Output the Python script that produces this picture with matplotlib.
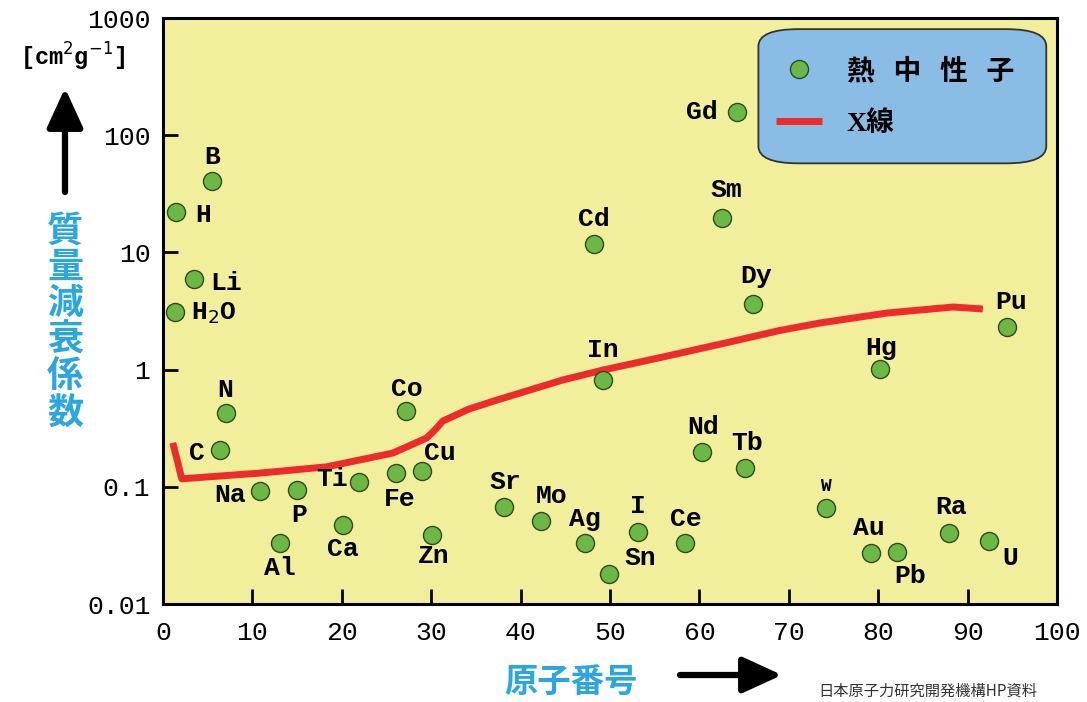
import matplotlib
matplotlib.use("Agg")
import matplotlib.pyplot as plt
from matplotlib import ticker
from matplotlib.lines import Line2D
from matplotlib.patches import FancyBboxPatch

plt.rcParams["font.family"] = ["DejaVu Sans", "Noto Sans CJK JP"]

# Thermal-neutron mass attenuation coefficients by element
elements = ["H", "B", "Li", "H2O", "N", "C", "Na", "Al", "P", "Ca", "Ti", "Fe",
            "Co", "Cu", "Zn", "Sr", "Mo", "Ag", "Cd", "In", "Sn", "I", "Ce",
            "Nd", "Sm", "Gd", "Tb", "Dy", "W", "Au", "Hg", "Pb", "Ra", "U", "Pu"]
atomic_numbers = [1.5, 5.5, 3.5, 1.3, 7.0, 6.4, 10.9, 13.1, 15.0, 20.1, 21.9, 26.1,
                  27.2, 29.0, 30.1, 38.1, 42.3, 47.2, 48.2, 49.2, 49.9, 53.1, 58.4,
                  60.3, 62.5, 64.2, 65.1, 66.0, 74.2, 79.2, 80.2, 82.1, 87.9, 92.4, 94.4]
neutron_coeff = [22.1, 40.6, 5.9, 3.1, 0.43, 0.206, 0.092, 0.033, 0.094, 0.047, 0.11, 0.131,
                 0.44, 0.136, 0.039, 0.067, 0.051, 0.033, 11.8, 0.81, 0.018, 0.041, 0.033,
                 0.20, 19.7, 158, 0.145, 3.6, 0.066, 0.027, 1.01, 0.028, 0.040, 0.0345, 2.31]

# X-ray attenuation trend
xray_z = [1.1, 2.1, 10.9, 18.3, 25.7, 29.5, 30.5, 31.3, 34.2, 37.4, 44.7, 49.2, 55.9,
          63.4, 68.9, 73.5, 81.0, 88.4, 91.7]
xray_coeff = [0.237, 0.117, 0.131, 0.148, 0.194, 0.261, 0.31, 0.364, 0.46, 0.551, 0.815,
              0.99, 1.28, 1.72, 2.15, 2.50, 3.04, 3.42, 3.29]

y_ticks = [0.01, 0.1, 1, 10, 100, 1000]
x_ticks = list(range(0, 101, 10))

# label placement around each dot, in pixels (dx, dy)
label_offsets = {
    "H": (27, -3), "B": (0, 24), "Li": (32, -4), "H2O": (39, -1), "N": (0, 23),
    "C": (-23, -3), "Na": (-30, -4), "Al": (0, -25), "P": (2, -25), "Ca": (0, -24),
    "Ti": (-27, 3), "Fe": (3, -26), "Co": (1, 22), "Cu": (18, 18), "Zn": (2, -21),
    "Sr": (2, 25), "Mo": (10, 25), "Ag": (0, 24), "Cd": (0, 25), "In": (0, 30),
    "Sn": (31, 16), "I": (0, 26), "Ce": (1, 24), "Nd": (1, 25), "Sm": (5, 28),
    "Gd": (-35, 0), "Tb": (2, 25), "Dy": (3, 28), "W": (-1, 21), "Au": (-2, 25),
    "Hg": (1, 21), "Pb": (13, -24), "Ra": (2, 26), "U": (21, -17), "Pu": (4, 25),
}

YELLOW = "#f1ef9c"
GREEN = "#6cb846"
RED = "#ee2b2b"
BLUE_TEXT = "#2ba6df"
LEGEND_BLUE = "#8abde6"

W, H = 1087, 702
fig = plt.figure(figsize=(W / 100, H / 100), dpi=100)
ax = fig.add_axes([163 / W, (H - 604) / H, (1057 - 163) / W, (604 - 18) / H])
ax.set_facecolor(YELLOW)

ax.plot(xray_z, xray_coeff, color=RED, lw=5, solid_capstyle="butt",
        solid_joinstyle="round", zorder=2)
ax.scatter(atomic_numbers, neutron_coeff, s=13 ** 2, color=GREEN,
           edgecolors="#2f4a22", linewidths=1.0, zorder=3)

for name, z, mu in zip(elements, atomic_numbers, neutron_coeff):
    text = r"H$_2$O" if name == "H2O" else name
    size = 13 if name == "W" else 19
    ax.annotate(text, (z, mu), xytext=label_offsets[name], textcoords="offset pixels",
                ha="center", va="center", fontfamily="Liberation Mono",
                fontweight="bold", fontsize=size, color="black", zorder=4)

ax.set_yscale("log")
ax.set_xlim(0, 100)
ax.set_ylim(0.01, 1000)
ax.set_xticks(x_ticks)
ax.set_yticks(y_ticks)
ax.yaxis.set_major_formatter(ticker.FuncFormatter(lambda v, _: f"{v:g}"))
ax.yaxis.set_minor_locator(ticker.NullLocator())
ax.tick_params(direction="in", length=11, width=2, colors="black",
               labelsize=19, top=False, right=False)
ax.tick_params(axis="x", pad=12)
ax.tick_params(axis="y", pad=9)
for lab in ax.get_xticklabels() + ax.get_yticklabels():
    lab.set_fontfamily("Liberation Mono")
for spine in ax.spines.values():
    spine.set_linewidth(2.2)
    spine.set_color("black")

# legend panel
panel = FancyBboxPatch((0.666, 0.752), 0.322, 0.229, transform=ax.transAxes,
                       boxstyle="round,pad=0,rounding_size=0.045",
                       facecolor=LEGEND_BLUE, edgecolor="#333333", lw=1.3,
                       mutation_aspect=0.65, zorder=5)
ax.add_patch(panel)
handles = [
    Line2D([], [], ls="none", marker="o", markersize=13, markerfacecolor=GREEN,
           markeredgecolor="#2f4a22", markeredgewidth=1.0),
    Line2D([], [], color=RED, lw=5, solid_capstyle="butt"),
]
leg = ax.legend(handles, ["熱   中   性   子", "X線"], loc="center",
                bbox_to_anchor=(0.819, 0.865), frameon=False, handlelength=1.65,
                handletextpad=0.9, labelspacing=0.95,
                prop={"family": ["Noto Sans CJK JP"], "weight": "bold", "size": 20})
leg.set_zorder(6)
leg.get_texts()[1].set_fontfamily(["Liberation Serif", "Noto Sans CJK JP"])

# axis titles and arrows
fig.text(65 / W, 1 - 322 / H, "\n".join("質量減衰係数"), color=BLUE_TEXT,
         fontsize=26, fontweight="bold", ha="center", va="center",
         linespacing=0.98, family=["Noto Sans CJK JP"])
fig.text(73 / W, 1 - 57 / H, r"[cm$^2$g$^{-1}$]", fontsize=17,
         fontfamily="Liberation Mono", fontweight="bold", ha="center", va="center")
fig.text(571 / W, 1 - 682 / H, "原子番号", color=BLUE_TEXT, fontsize=24,
         fontweight="bold", ha="center", va="center", family=["Noto Sans CJK JP"])
arrow_style = dict(arrowstyle="-|>,head_length=1.2,head_width=0.55", lw=4.5,
                   color="black", mutation_scale=20, shrinkA=0, shrinkB=0)
ax.annotate("", xy=(65, H - 88), xytext=(65, H - 192), xycoords="figure pixels",
            textcoords="figure pixels", arrowprops=arrow_style, annotation_clip=False)
ax.annotate("", xy=(782, H - 675), xytext=(680, H - 675), xycoords="figure pixels",
            textcoords="figure pixels", arrowprops=arrow_style, annotation_clip=False)

fig.text(818 / W, 2 / H, "日本原子力研究開発機構HP資料", fontsize=11, color="#333333",
         ha="left", va="bottom", family=["Noto Sans CJK JP"])

fig.savefig("out.png", dpi=100)
